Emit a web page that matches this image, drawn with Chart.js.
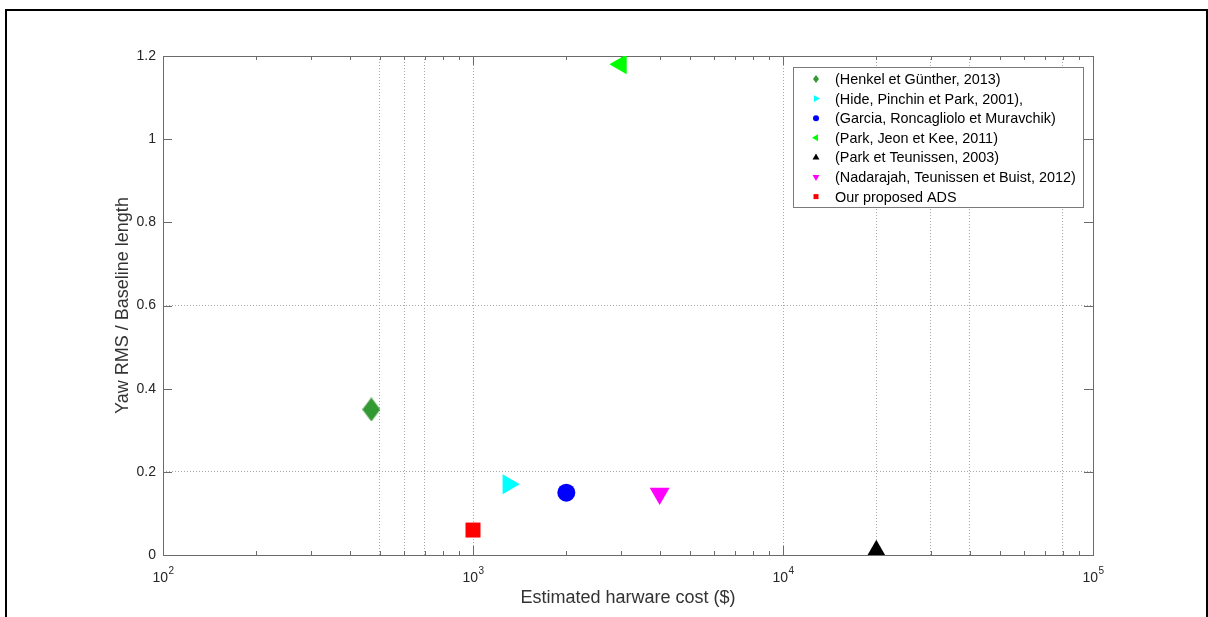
<!DOCTYPE html>
<html>
<head>
<meta charset="utf-8">
<script src="https://cdn.jsdelivr.net/npm/chart.js@4/dist/chart.umd.min.js"></script>
<style>
  html, body { margin: 0; padding: 0; background: #fff; }
  canvas { display: block; }
</style>
</head>
<body>
<canvas id="costChart" width="1208" height="617"></canvas>
<script>
// data
const studyLabels = [
    '(Henkel et Günther, 2013)',
    '(Hide, Pinchin et Park, 2001),',
    '(Garcia, Roncagliolo et Muravchik)',
    '(Park, Jeon et Kee, 2011)',
    '(Park et Teunissen, 2003)',
    '(Nadarajah, Teunissen et Buist, 2012)',
    'Our proposed ADS'
];
const hardwareCost = [470, 1300, 2000, 3000, 20000, 4000, 1000];
const yawRmsRatio = [0.35, 0.17, 0.15, 1.18, 0.01, 0.148, 0.06];
// decade labels: base and exponent
const xTickExponents = { 100: '2', 1000: '3', 10000: '4', 100000: '5' };
const xGridValues = [500, 600, 700, 1000, 10000, 20000, 30000, 40000, 80000];
const yGridValues = [0.2, 0.6];

// marker styles (matlab-like)
const markerColors = ['#339933', '#00ffff', '#0000ff', '#00ff00', '#000000', '#ff00ff', '#ff0000'];
const markerShapes = ['diamond', 'right', 'circle', 'left', 'up', 'down', 'square'];
const FONT = '"Liberation Sans", Arial, sans-serif';

function diamondImage(w, h, color) {
    const c = document.createElement('canvas');
    c.width = w; c.height = h;
    const g = c.getContext('2d');
    g.fillStyle = color;
    g.beginPath();
    g.moveTo(w / 2, 0); g.lineTo(w, h / 2); g.lineTo(w / 2, h); g.lineTo(0, h / 2);
    g.closePath();
    g.fill();
    return c;
}

function pointOpts(shape, color) {
    switch (shape) {
        case 'diamond': return { pointStyle: diamondImage(18, 24, color), rotation: 0, radius: 12 };
        case 'right': return { pointStyle: 'triangle', rotation: 90, radius: 11.5 };
        case 'left': return { pointStyle: 'triangle', rotation: 270, radius: 11.5 };
        case 'up': return { pointStyle: 'triangle', rotation: 0, radius: 11 };
        case 'down': return { pointStyle: 'triangle', rotation: 180, radius: 11.5 };
        case 'square': return { pointStyle: 'rect', rotation: 0, radius: 10.6 };
        default: return { pointStyle: 'circle', rotation: 0, radius: 9 };
    }
}

const datasets = studyLabels.map((label, i) => {
    const p = pointOpts(markerShapes[i], markerColors[i]);
    return {
        label: label,
        data: [{ x: hardwareCost[i], y: yawRmsRatio[i] }],
        showLine: false,
        pointStyle: p.pointStyle,
        pointRotation: p.rotation,
        pointRadius: p.radius,
        pointBackgroundColor: markerColors[i],
        pointBorderColor: markerColors[i],
        pointBorderWidth: 0
    };
});

function near(list, v) {
    return list.some(g => Math.abs(g - v) < 1e-6 * Math.max(1, Math.abs(g)));
}

// small legend markers
function drawMiniMarker(ctx, shape, x, y, color) {
    ctx.fillStyle = color;
    ctx.beginPath();
    if (shape === 'diamond') {
        ctx.moveTo(x, y - 4); ctx.lineTo(x + 3, y); ctx.lineTo(x, y + 4); ctx.lineTo(x - 3, y);
    } else if (shape === 'circle') {
        ctx.arc(x, y, 3, 0, Math.PI * 2);
    } else if (shape === 'square') {
        ctx.rect(x - 2.5, y - 2.5, 5, 5);
    } else {
        const rot = { up: 0, right: 90, down: 180, left: 270 }[shape] * Math.PI / 180;
        const r = 4;
        for (let k = 0; k < 3; k++) {
            const a = rot + k * 2 * Math.PI / 3;
            const px = x + Math.sin(a) * r, py = y - Math.cos(a) * r;
            if (k === 0) ctx.moveTo(px, py); else ctx.lineTo(px, py);
        }
    }
    ctx.closePath();
    ctx.fill();
}

const matlabFrame = {
    id: 'matlabFrame',
    beforeDraw(chart) {
        const ctx = chart.ctx;
        ctx.save();
        ctx.fillStyle = '#fff';
        ctx.fillRect(0, 0, chart.width, chart.height);
        ctx.strokeStyle = '#000';
        ctx.lineWidth = 2;
        ctx.strokeRect(6, 10, 1201, 620);
        ctx.restore();
    },
    beforeDatasetsDraw(chart) {
        const ctx = chart.ctx;
        const a = chart.chartArea;
        const xs = chart.scales.x, ys = chart.scales.y;
        ctx.save();
        ctx.strokeStyle = '#6b6b6b';
        ctx.lineWidth = 1;
        ctx.strokeRect(Math.round(a.left) + 0.5, Math.round(a.top) + 0.5,
            Math.round(a.right - a.left), Math.round(a.bottom - a.top));
        // inward ticks
        ctx.beginPath();
        xs.ticks.forEach(t => {
            const px = Math.round(xs.getPixelForValue(t.value)) + 0.5;
            const len = xTickExponents[t.value] ? 9 : 4;
            ctx.moveTo(px, a.bottom); ctx.lineTo(px, a.bottom - len);
            ctx.moveTo(px, a.top); ctx.lineTo(px, a.top + len);
        });
        ys.ticks.forEach(t => {
            const py = Math.round(ys.getPixelForValue(t.value)) + 0.5;
            ctx.moveTo(a.left, py); ctx.lineTo(a.left + 9, py);
            ctx.moveTo(a.right, py); ctx.lineTo(a.right - 9, py);
        });
        ctx.stroke();

        // decade labels 10^n with a raised exponent
        ctx.fillStyle = '#262626';
        ctx.textBaseline = 'alphabetic';
        ctx.textAlign = 'left';
        xs.ticks.forEach(t => {
            const exp = xTickExponents[t.value];
            if (!exp) return;
            const px = xs.getPixelForValue(t.value);
            ctx.font = '14px ' + FONT;
            const wBase = ctx.measureText('10').width;
            ctx.font = '10px ' + FONT;
            const wExp = ctx.measureText(exp).width;
            const x0 = px - (wBase + wExp) / 2;
            ctx.font = '14px ' + FONT;
            ctx.fillText('10', x0, a.bottom + 27);
            ctx.font = '10px ' + FONT;
            ctx.fillText(exp, x0 + wBase + 0.5, a.bottom + 19);
        });
        ctx.restore();
    },
    afterDraw(chart) {
        // legend box, top right inside the axes
        const ctx = chart.ctx;
        const bx = 793, by = 67, bw = 290, bh = 140;
        ctx.save();
        ctx.fillStyle = '#fff';
        ctx.fillRect(bx, by, bw, bh);
        ctx.strokeStyle = '#7a7a7a';
        ctx.lineWidth = 1;
        ctx.strokeRect(bx + 0.5, by + 0.5, bw, bh);
        ctx.font = '14.4px ' + FONT;
        ctx.textBaseline = 'middle';
        ctx.textAlign = 'left';
        chart.data.datasets.forEach((ds, i) => {
            const y = 79 + i * 19.6;
            drawMiniMarker(ctx, markerShapes[i], 816, y, markerColors[i]);
            ctx.fillStyle = '#000';
            ctx.fillText(ds.label, 835, y + 1);
        });
        ctx.restore();
    }
};

new Chart(document.getElementById('costChart').getContext('2d'), {
    type: 'scatter',
    data: { datasets: datasets },
    options: {
        responsive: false,
        animation: false,
        events: [],
        layout: { padding: { left: 105, top: 56, right: 115, bottom: 0 } },
        plugins: {
            legend: { display: false },
            tooltip: { enabled: false }
        },
        scales: {
            x: {
                type: 'logarithmic',
                min: 100,
                max: 100000,
                afterBuildTicks: scale => {
                    const ticks = [];
                    for (let d = 100; d < 100000; d *= 10) {
                        for (let m = 1; m < 10; m++) ticks.push({ value: m * d });
                    }
                    ticks.push({ value: 100000 });
                    scale.ticks = ticks;
                },
                afterFit: scale => { scale.height = 62; },
                grid: {
                    drawTicks: false,
                    lineWidth: 1,
                    color: ctx => (ctx.tick && near(xGridValues, ctx.tick.value)) ? '#a8a8a8' : 'rgba(0,0,0,0)'
                },
                border: { display: false, dash: [1, 2] },
                ticks: {
                    autoSkip: false,
                    maxRotation: 0,
                    padding: 12,
                    // decade labels are drawn with superscripts by the plugin
                    callback: () => ''
                },
                title: {
                    display: true,
                    text: 'Estimated harware cost ($)',
                    color: '#333',
                    font: { family: FONT, size: 18 },
                    padding: { top: 0, bottom: 8 }
                }
            },
            y: {
                min: 0,
                max: 1.2,
                afterFit: scale => { scale.width = 58; },
                ticks: {
                    stepSize: 0.2,
                    padding: 7,
                    color: '#262626',
                    font: { family: FONT, size: 14 },
                    callback: value => String(+value.toFixed(1))
                },
                grid: {
                    drawTicks: false,
                    lineWidth: 1,
                    color: ctx => (ctx.tick && near(yGridValues, ctx.tick.value)) ? '#a8a8a8' : 'rgba(0,0,0,0)'
                },
                border: { display: false, dash: [1, 2] },
                title: {
                    display: true,
                    text: 'Yaw RMS / Baseline length',
                    color: '#333',
                    font: { family: FONT, size: 18 },
                    padding: { top: 7, bottom: 0 }
                }
            }
        }
    },
    plugins: [matlabFrame]
});
</script>
</body>
</html>
